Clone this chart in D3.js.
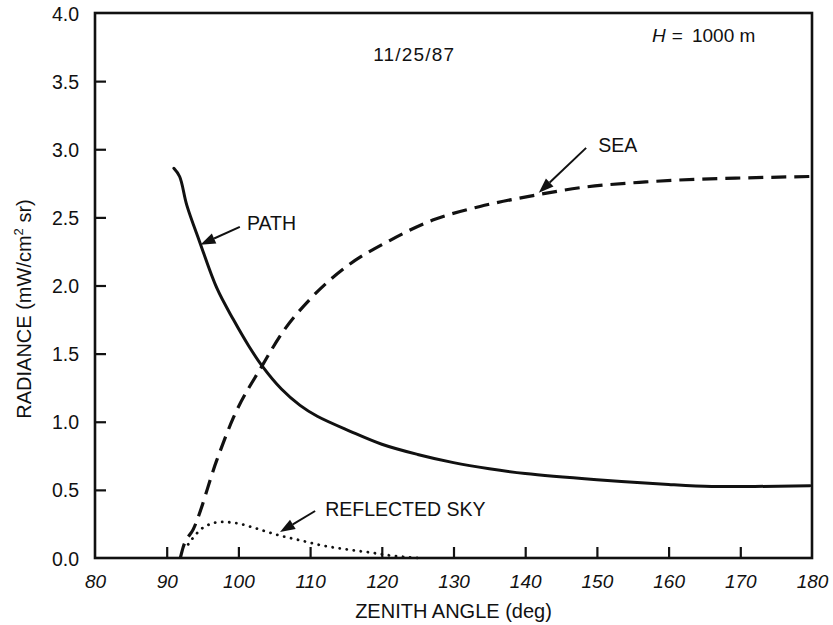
<!DOCTYPE html>
<html>
<head>
<meta charset="utf-8">
<script src="https://cdn.jsdelivr.net/npm/d3@7"></script>
<style>
  html, body { margin: 0; padding: 0; background: #fff; }
  svg { display: block; font-family: "Liberation Sans", Arial, Helvetica, sans-serif; }
</style>
</head>
<body>
<svg id="chart" width="833" height="625"></svg>
<script>
// Zenith angle (deg) vs. radiance (mW/cm^2 sr), 11/25/87, H = 1000 m
const pathAngle = [91.0, 91.8, 92.8, 94.6, 97.0, 99.3, 101.4, 103.3, 106.0, 108.6, 111.0, 115.6, 120.0, 125.0, 130.0, 135.0, 140.0, 150.0, 160.0, 166.0, 172.0, 179.7];
const pathRadiance = [2.86, 2.80, 2.59, 2.32, 1.98, 1.75, 1.56, 1.41, 1.24, 1.12, 1.04, 0.93, 0.835, 0.76, 0.70, 0.655, 0.62, 0.575, 0.54, 0.525, 0.525, 0.53];

const seaAngle = [91.9, 92.3, 93.7, 97.0, 99.3, 103.3, 106.2, 110.0, 115.1, 121.1, 127.1, 133.7, 141.1, 148.0, 156.8, 164.0, 170.8, 179.7];
const seaRadiance = [0.0, 0.08, 0.21, 0.72, 1.03, 1.41, 1.66, 1.90, 2.14, 2.33, 2.48, 2.58, 2.66, 2.72, 2.76, 2.78, 2.79, 2.80];

const skyAngle = [93.0, 93.7, 95.3, 97.7, 99.8, 102.6, 105.4, 108.6, 111.4, 114.2, 118.4, 121.0, 125.0];
const skyRadiance = [0.10, 0.15, 0.23, 0.265, 0.255, 0.215, 0.17, 0.13, 0.095, 0.07, 0.04, 0.02, 0.0];

const xTicks = [80, 90, 100, 110, 120, 130, 140, 150, 160, 170, 180];
const yTicks = [0.0, 0.5, 1.0, 1.5, 2.0, 2.5, 3.0, 3.5, 4.0];

// Callout labels: text anchor point and arrow (from -> to), in data units
const labelText = ["PATH", "SEA", "REFLECTED SKY"];
const labelAt = [[101.2, 2.41], [150.2, 2.98], [112.1, 0.31]];
const arrowFrom = [[100.2, 2.43], [148.5, 3.01], [110.7, 0.345]];
const arrowTo = [[94.7, 2.30], [141.9, 2.68], [105.8, 0.19]];

const svg = d3.select("#chart");
const x = d3.scaleLinear().domain([80, 180]).range([95, 812]);
const y = d3.scaleLinear().domain([0, 4]).range([558, 13]);

const ink = "#111";

// Frame
svg.append("rect")
  .attr("x", x(80)).attr("y", y(4))
  .attr("width", x(180) - x(80)).attr("height", y(0) - y(4))
  .attr("fill", "none").attr("stroke", ink).attr("stroke-width", 2.6);

// Bottom axis: inward ticks, italic labels
const xAxis = svg.append("g")
  .attr("transform", `translate(0,${y(0)})`)
  .call(d3.axisBottom(x).tickValues(xTicks).tickSize(0).tickPadding(0).tickFormat(d3.format("d")));
xAxis.select(".domain").remove();
xAxis.selectAll(".tick text")
  .attr("y", 30).attr("dy", 0)
  .attr("fill", ink).attr("font-size", 19).attr("font-style", "italic")
  .attr("font-family", "'Liberation Sans', Arial, sans-serif");
xAxis.selectAll(".tick")
  .filter(d => d > 80 && d < 180)
  .append("line")
  .attr("y1", 0).attr("y2", -11)
  .attr("stroke", ink).attr("stroke-width", 2.2);

// Left axis: inward ticks
const yAxis = svg.append("g")
  .attr("transform", `translate(${x(80)},0)`)
  .call(d3.axisLeft(y).tickValues(yTicks).tickSize(0).tickPadding(0).tickFormat(d3.format(".1f")));
yAxis.select(".domain").remove();
yAxis.selectAll(".tick text")
  .attr("x", -16).attr("dy", "0.36em")
  .attr("fill", ink).attr("font-size", 19.5)
  .attr("font-family", "'Liberation Sans', Arial, sans-serif");
yAxis.selectAll(".tick")
  .filter(d => d > 0 && d < 4)
  .append("line")
  .attr("x1", 0).attr("x2", 11)
  .attr("stroke", ink).attr("stroke-width", 2.2);

// Axis titles
svg.append("text")
  .attr("x", (x(80) + x(180)) / 2).attr("y", 618)
  .attr("text-anchor", "middle").attr("font-size", 20).attr("fill", ink)
  .text("ZENITH ANGLE (deg)");

const yTitle = svg.append("text")
  .attr("transform", `translate(31,309) rotate(-90)`)
  .attr("text-anchor", "middle").attr("font-size", 20).attr("fill", ink);
yTitle.append("tspan").text("RADIANCE (mW/cm");
yTitle.append("tspan").attr("dy", -8).attr("font-size", 13).text("2");
yTitle.append("tspan").attr("dy", 8).text(" sr)");

// Curves
const line = d3.line().x(d => x(d[0])).y(d => y(d[1])).curve(d3.curveMonotoneX);
const pathPts = d3.zip(pathAngle, pathRadiance);
const seaPts = d3.zip(seaAngle, seaRadiance);
const skyPts = d3.zip(skyAngle, skyRadiance);

svg.append("path").datum(pathPts)
  .attr("d", d3.line().x(d => x(d[0])).y(d => y(d[1])).curve(d3.curveCatmullRom.alpha(0.5)))
  .attr("fill", "none").attr("stroke", ink).attr("stroke-width", 3)
  .attr("stroke-linejoin", "round").attr("stroke-linecap", "round");

svg.append("path").datum(seaPts)
  .attr("d", line)
  .attr("fill", "none").attr("stroke", ink).attr("stroke-width", 3.2)
  .attr("stroke-dasharray", "15,8");

svg.append("path").datum(skyPts)
  .attr("d", line)
  .attr("fill", "none").attr("stroke", ink).attr("stroke-width", 2.8)
  .attr("stroke-linecap", "round").attr("stroke-dasharray", "0.1,7");

// Annotations
svg.append("text")
  .attr("x", x(118.8)).attr("y", y(3.65))
  .attr("font-size", 19).attr("letter-spacing", 1.2).attr("fill", ink)
  .text("11/25/87");

const hLabel = svg.append("text")
  .attr("x", x(157.7)).attr("y", y(3.79))
  .attr("font-size", 19).attr("fill", ink);
hLabel.append("tspan").attr("font-style", "italic").text("H");
hLabel.append("tspan").attr("dx", 6).text("=");
hLabel.append("tspan").attr("dx", 9).text("1000 m");

labelText.forEach((t, i) => {
  svg.append("text")
    .attr("x", x(labelAt[i][0])).attr("y", y(labelAt[i][1]))
    .attr("font-size", 19.5).attr("fill", ink).text(t);

  const x1 = x(arrowFrom[i][0]), y1 = y(arrowFrom[i][1]);
  const x2 = x(arrowTo[i][0]), y2 = y(arrowTo[i][1]);
  const ang = Math.atan2(y2 - y1, x2 - x1);
  const headLen = 15, headW = 5.5;
  const bx = x2 - headLen * Math.cos(ang), by = y2 - headLen * Math.sin(ang);
  svg.append("line")
    .attr("x1", x1).attr("y1", y1).attr("x2", bx).attr("y2", by)
    .attr("stroke", ink).attr("stroke-width", 2);
  const px = -Math.sin(ang) * headW, py = Math.cos(ang) * headW;
  svg.append("path")
    .attr("d", `M${x2},${y2}L${bx + px},${by + py}L${bx - px},${by - py}Z`)
    .attr("fill", ink);
});
</script>
</body>
</html>
